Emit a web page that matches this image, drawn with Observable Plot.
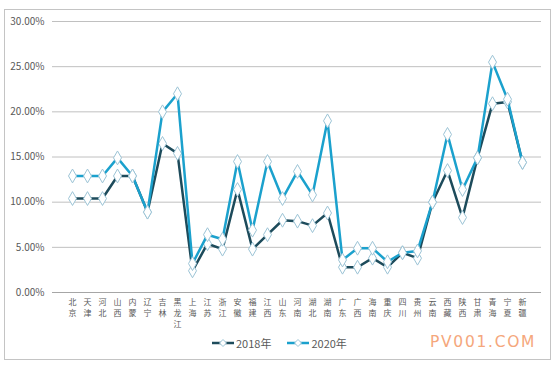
<!DOCTYPE html>
<html>
<head>
<meta charset="utf-8">
<script src="https://cdn.jsdelivr.net/npm/d3@7"></script>
<script src="https://cdn.jsdelivr.net/npm/@observablehq/plot@0.6"></script>
<style>
  html, body { margin: 0; padding: 0; background: #fff; }
  #wrap { position: relative; width: 556px; height: 369px; overflow: hidden; font-family: "Noto Sans CJK SC", "Noto Sans", sans-serif; }
  #frame { position: absolute; left: 4px; top: 9px; width: 547px; height: 351px; border: 1px solid #c4c4c4; box-sizing: border-box; }
  #chart { position: absolute; left: 0; top: 0; }
  #legend { position: absolute; top: 335px; left: 212px; display: flex; gap: 16px; font-size: 11px; color: #595959; align-items: center; }
  #legend .item { display: flex; align-items: center; gap: 2px; }
  #wm { position: absolute; left: 430px; top: 333px; font-family: "DejaVu Sans", sans-serif; font-size: 15.5px; letter-spacing: 1.7px; color: #f5a77c; }
</style>
</head>
<body>
<div id="wrap">
  <div id="frame"></div>
  <div id="chart"></div>
  <div id="legend"></div>
  <div id="wm">PV001.COM</div>
</div>
<script>
const provinces = ["北京","天津","河北","山西","内蒙","辽宁","吉林","黑龙江","上海","江苏","浙江","安徽","福建","江西","山东","河南","湖北","湖南","广东","广西","海南","重庆","四川","贵州","云南","西藏","陕西","甘肃","青海","宁夏","新疆"];
const values2018 = [10.4,10.4,10.4,12.9,12.9,8.9,16.5,15.4,2.4,5.4,4.8,11.4,4.8,6.4,8.0,7.9,7.4,8.8,2.8,2.8,3.8,2.8,4.4,3.8,10.0,13.5,8.3,14.9,20.9,21.1,14.4];
const values2020 = [12.9,12.9,12.9,14.9,12.9,8.9,20.0,22.0,3.2,6.4,5.9,14.5,6.9,14.5,10.4,13.4,10.8,19.0,3.6,4.9,4.9,3.4,4.4,4.6,10.0,17.5,11.4,14.9,25.5,21.4,14.4];
const seriesNames = ["2018年","2020年"];
const yTicks = [0,5,10,15,20,25,30];

const colors = {"2018年": "#1d4b5b", "2020年": "#1ba1cd"};
const markerStroke = "#9cc4d6";

const data = [];
provinces.forEach((p, i) => {
  data.push({province: p, series: "2018年", value: values2018[i] / 100});
  data.push({province: p, series: "2020年", value: values2020[i] / 100});
});
const d18 = data.filter(d => d.series === "2018年");
const d20 = data.filter(d => d.series === "2020年");

// one entry per character of each category label (labels are written vertically)
const chars = [];
provinces.forEach(p => [...p].forEach((ch, k) => chars.push({province: p, ch, k})));

const font = "'Noto Sans CJK SC', 'Noto Sans', sans-serif";
const charMarks = [0, 1, 2].map(k =>
  Plot.text(chars.filter(c => c.k === k), {x: "province", text: "ch", frameAnchor: "bottom", lineAnchor: "top", dy: 7 + k * 11, fontSize: 8, fill: "#595959"})
);

const chart = Plot.plot({
  width: 556,
  height: 330,
  marginLeft: 52,
  marginRight: 15,
  marginTop: 21,
  marginBottom: 38,
  style: {fontFamily: font, background: "transparent", overflow: "visible"},
  x: {type: "point", domain: provinces, padding: 0.5, label: null, axis: null},
  y: {domain: [0, 0.30], label: null},
  marks: [
    Plot.ruleY(yTicks.slice(1).map(t => t / 100), {stroke: "#c0c0c0", strokeWidth: 1}),
    Plot.ruleY([0], {stroke: "#a6a6a6", strokeWidth: 1.2}),
    Plot.axisY({ticks: yTicks.map(t => t / 100), tickFormat: d => (d * 100).toFixed(2) + "%", tickSize: 0, tickPadding: 8, fontSize: 10, fill: "#595959", label: null}),
    ...charMarks,
    Plot.line(d18, {x: "province", y: "value", stroke: colors["2018年"], strokeWidth: 2.5}),
    Plot.dot(d18, {x: "province", y: "value", symbol: "diamond", r: 4.2, fill: "#fff", stroke: markerStroke, strokeWidth: 1}),
    Plot.line(d20, {x: "province", y: "value", stroke: colors["2020年"], strokeWidth: 2.5}),
    Plot.dot(d20, {x: "province", y: "value", symbol: "diamond", r: 4.2, fill: "#fff", stroke: markerStroke, strokeWidth: 1})
  ]
});
document.getElementById("chart").appendChild(chart);

const legend = document.getElementById("legend");
seriesNames.forEach(name => {
  const item = document.createElement("div");
  item.className = "item";
  item.innerHTML = `<svg width="22" height="10"><line x1="0" y1="5" x2="22" y2="5" stroke="${colors[name]}" stroke-width="2.5"/><path d="M11,1.5 L14.5,5 L11,8.5 L7.5,5 Z" fill="#fff" stroke="${markerStroke}" stroke-width="1"/></svg><span>${name}</span>`;
  legend.appendChild(item);
});
</script>
</body>
</html>
